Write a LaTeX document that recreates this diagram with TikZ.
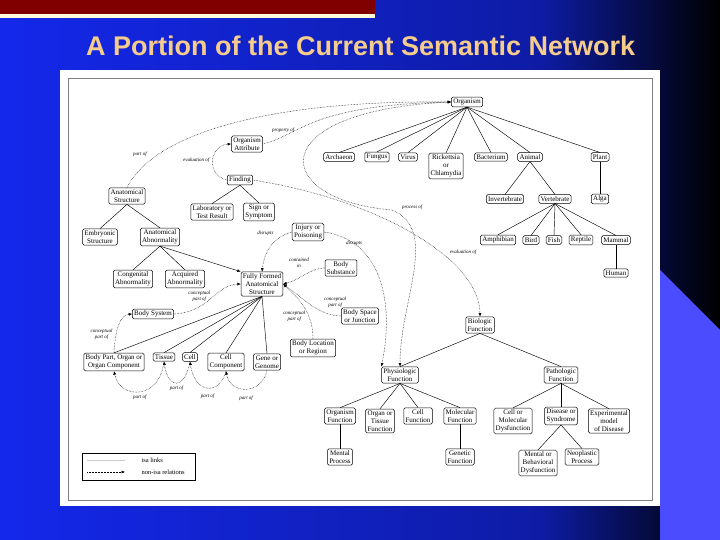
\documentclass[tikz,border=0pt]{standalone}
\usepackage{fontspec}
\setmainfont{Liberation Serif}
\newfontfamily\sansf{Liberation Sans}
\usetikzlibrary{arrows.meta}
\definecolor{titlec}{RGB}{246,204,140}
\definecolor{bgblue}{RGB}{20,40,235}
\begin{document}
\begin{tikzpicture}[x=1pt,y=-1pt,
  nd/.style={draw,rounded corners=1.5pt,align=center,font=\fontsize{7}{7.8}\selectfont,inner sep=1.8pt,line width=0.5pt,fill=white},
  isa/.style={line width=0.45pt},
  rel/.style={densely dotted,line width=0.5pt,-{Latex[length=3.5pt,width=3pt]}},
  lab/.style={font=\itshape\fontsize{5}{5.6}\selectfont,align=center}]
\useasboundingbox (0,0) rectangle (720,540);
\fill[left color=bgblue,right color=bgblue!70!black] (0,0) rectangle (540,540);
\fill[left color=bgblue!70!black,right color=black] (540,0) rectangle (720,540);
\fill[blue!70!white] (660,270) -- (720,330) -- (720,540) -- (660,540) -- cycle;
\fill[red!50!black] (0,0) rectangle (375,14);
\fill[yellow!15!white] (0,14) rectangle (375,18);
\node[font=\sansf\bfseries\fontsize{27}{30}\selectfont,text=titlec,anchor=west,inner sep=0pt] (title) at (86,46) {A Portion of the Current Semantic Network};
\fill[white] (60,70) rectangle (660,506);
\draw[gray,line width=0.6pt] (68,78) rectangle (652,500);

% nodes
\node[nd] (org) at (467,102) {Organism};
\node[nd] (oa) at (247,144) {Organism\\Attribute};
\node[nd] (arch) at (339,157) {Archaeon};
\node[nd] (fung) at (377,157) {Fungus};
\node[nd] (vir) at (408,157) {Virus};
\node[nd] (rick) at (446,166) {Rickettsia\\or\\Chlamydia};
\node[nd] (bact) at (491,157) {Bacterium};
\node[nd] (anim) at (530,157) {Animal};
\node[nd] (plant) at (600,157) {Plant};
\node[nd] (inv) at (505,199) {Invertebrate};
\node[nd] (vert) at (555,199) {Vertebrate};
\node[nd] (alga) at (600,199) {Alga};
\node[nd] (amph) at (498,240) {Amphibian};
\node[nd] (bird) at (531,240) {Bird};
\node[nd] (fish) at (554,240) {Fish};
\node[nd] (rept) at (581,240) {Reptile};
\node[nd] (mamm) at (616,240) {Mammal};
\node[nd] (hum) at (616,273) {Human};
\node[nd] (find) at (240,180) {Finding};
\node[nd] (anat) at (127,196) {Anatomical\\Structure};
\node[nd] (lab) at (212,212) {Laboratory or\\Test Result};
\node[nd] (sign) at (259,212) {Sign or\\Symptom};
\node[nd] (emb) at (100,237) {Embryonic\\Structure};
\node[nd] (aab) at (160,237) {Anatomical\\Abnormality};
\node[nd] (inj) at (308,232) {Injury or\\Poisoning};
\node[nd] (bsub) at (341,268) {Body\\Substance};
\node[nd] (cab) at (133,279) {Congenital\\Abnormality};
\node[nd] (acq) at (185,279) {Acquired\\Abnormality};
\node[nd] (ffa) at (262,284) {Fully Formed\\Anatomical\\Structure};
\node[nd] (bsys) at (153,314) {Body System};
\node[nd] (bsp) at (360,316) {Body Space\\or Junction};
\node[nd] (bloc) at (313,348) {Body Location\\or Region};
\node[nd] (biof) at (480,325) {Biologic\\Function};
\node[nd] (bpart) at (114,362) {Body Part, Organ or\\Organ Component};
\node[nd] (tis) at (164,357) {Tissue};
\node[nd] (cell) at (190,357) {Cell};
\node[nd] (ccomp) at (226,362) {Cell\\Component};
\node[nd] (gene) at (267,362) {Gene or\\Genome};
\node[nd] (phys) at (400,375) {Physiologic\\Function};
\node[nd] (path) at (561,375) {Pathologic\\Function};
\node[nd] (orgf) at (340,416) {Organism\\Function};
\node[nd] (otf) at (380,421) {Organ or\\Tissue\\Function};
\node[nd] (cellf) at (418,416) {Cell\\Function};
\node[nd] (molf) at (460,416) {Molecular\\Function};
\node[nd] (cmd) at (513,421) {Cell or\\Molecular\\Dysfunction};
\node[nd] (dis) at (561,416) {Disease or\\Syndrome};
\node[nd] (exp) at (609,421) {Experimental\\model\\of Disease};
\node[nd] (ment) at (340,457) {Mental\\Process};
\node[nd] (genf) at (460,457) {Genetic\\Function};
\node[nd] (mbd) at (538,463) {Mental or\\Behavioral\\Dysfunction};
\node[nd] (neo) at (582,457) {Neoplastic\\Process};

% isa links
\foreach \c in {arch,fung,vir,rick,bact,anim,plant} \draw[isa] (org.south) -- (\c.north);
\foreach \c in {inv,vert} \draw[isa] (anim.south) -- (\c.north);
\draw[isa] (plant) -- (alga);
\foreach \c in {amph,bird,fish,rept,mamm} \draw[isa] (vert.south) -- (\c.north);
\draw[isa] (mamm) -- (hum);
\foreach \c in {lab,sign} \draw[isa] (find.south) -- (\c.north);
\foreach \c in {emb,aab} \draw[isa] (anat.south) -- (\c.north);
\foreach \c in {cab,acq} \draw[isa] (aab.south) -- (\c.north);
\draw[isa,-{Latex[length=3.5pt,width=3pt]}] (aab.south) -- (ffa.north west);
\foreach \c in {bpart,tis,cell,ccomp,gene} \draw[isa] (\c.north) -- (ffa.south);
\foreach \c in {phys,path} \draw[isa] (biof.south) -- (\c.north);
\foreach \c in {orgf,otf,cellf,molf} \draw[isa] (phys.south) -- (\c.north);
\foreach \c in {cmd,dis,exp} \draw[isa] (path.south) -- (\c.north);
\draw[isa] (orgf) -- (ment);
\draw[isa] (molf) -- (genf);
\foreach \c in {mbd,neo} \draw[isa] (dis.south) -- (\c.north);

% relations
\draw[rel] (anat.north) .. controls (150,140) and (250,100) .. (org.west) node[lab,pos=0.2,above left]{part of};
\draw[rel] (oa.east) .. controls (300,135) and (310,105) .. (org.west) node[lab,pos=0.2,above]{property of};
\draw[rel] (find.west) .. controls (205,175) and (210,145) .. (oa.west) node[lab,pos=0.5,left]{evaluation of};
\draw[rel] (find.east) .. controls (380,200) and (480,260) .. (biof.north) node[lab,pos=0.65,above right]{evaluation of};
\draw[rel] (org.west) .. controls (260,110) and (270,200) .. (392,210) .. controls (440,230) and (400,300) .. (phys.north) node[lab,pos=0.05,above right]{process of};
\draw[rel] (inj.west) .. controls (280,235) and (265,245) .. (ffa.north) node[lab,pos=0.4,above left]{disrupts};
\draw[rel] (inj.east) .. controls (380,240) and (395,300) .. (phys.north west) node[lab,pos=0.12,below right]{disrupts};
\draw[rel] (bsub.west) .. controls (310,268) and (300,280) .. (ffa.east) node[lab,pos=0.3,above left]{contained\\in};
\draw[rel] (bsp.west) .. controls (320,316) and (305,300) .. (ffa.east) node[lab,pos=0.35,above right]{conceptual\\part of};
\draw[rel] (bloc.north) .. controls (313,310) and (295,295) .. (ffa.east) node[lab,pos=0.3,left]{conceptual\\part of};
\draw[rel] (bsys.east) .. controls (210,312) and (215,285) .. (ffa.west) node[lab,pos=0.55,left]{conceptual\\part of};
\draw[rel] (bpart.north) .. controls (115,330) and (120,315) .. (bsys.west) node[lab,pos=0.3,left]{conceptual\\part of};
\draw[rel] (tis.south) .. controls (160,400) and (120,400) .. (bpart.south) node[lab,pos=0.5,below]{part of};
\draw[rel] (cell.south) .. controls (185,390) and (168,390) .. (tis.south) node[lab,pos=0.5,below]{part of};
\draw[rel] (ccomp.south) .. controls (220,395) and (195,395) .. (cell.south) node[lab,pos=0.5,below=3pt]{part of};
\draw[rel] (gene.south) .. controls (262,395) and (230,395) .. (ccomp.south) node[lab,pos=0.5,below=3pt]{part of};

% legend
\node[draw,line width=0.5pt,minimum width=113pt,minimum height=27pt] (leg) at (138.5,466.5) {};
\coordinate (l1a) at (87,460); \coordinate (l1b) at (125,460);
\coordinate (l2a) at (87,472); \coordinate (l2b) at (125,472);
\draw[isa,gray!40] (l1a) -- (l1b);
\draw[rel] (l2a) -- (l2b);
\node[font=\fontsize{6.5}{7}\selectfont,anchor=west] (lt1) at (138,460) {isa links};
\node[font=\fontsize{6.5}{7}\selectfont,anchor=west] (lt2) at (138,472) {non-isa relations};
\end{tikzpicture}
\end{document}
